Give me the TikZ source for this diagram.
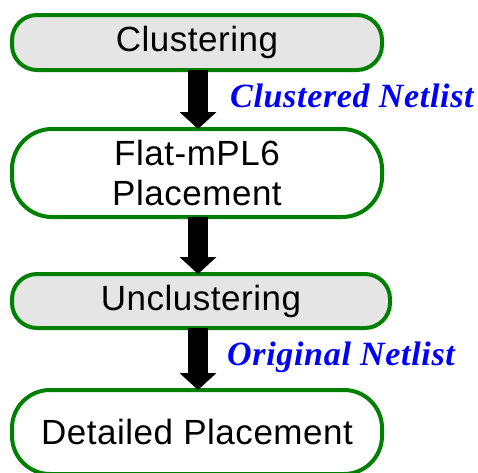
\documentclass[tikz,border=0pt]{standalone}
\usepackage{fontspec}
\setmainfont[LetterSpace=1.5]{Liberation Sans}
\newfontfamily\labelfont[LetterSpace=2]{Liberation Serif}
\usetikzlibrary{arrows.meta}
\definecolor{stageedge}{RGB}{0,128,0}
\definecolor{stagegray}{RGB}{229,229,229}
\definecolor{netblue}{RGB}{0,0,255}
\begin{document}
\begin{tikzpicture}[x=1pt,y=1pt,
  stage/.style={draw=stageedge, line width=4pt, fill=white, outer sep=0pt,
    inner sep=0pt, align=center, font=\fontsize{35}{40}\selectfont},
  graystage/.style={stage, fill=stagegray},
  flow/.style={line width=20pt, -{Triangle[width=36pt,length=17pt]}},
  netlabel/.style={text=netblue, anchor=base west, inner sep=0pt,
    font=\labelfont\bfseries\itshape\fontsize{34}{40}\selectfont}]
\useasboundingbox (0,0) rectangle (478,-472);

\node[graystage, minimum width=370pt, minimum height=55pt, rounded corners=25pt]
  (clu) at (197,-42.5) {Clustering};
\node[stage, minimum width=370pt, minimum height=88pt, rounded corners=40pt]
  (flat) at (197,-173) {Flat-mPL6\\Placement};
\node[graystage, minimum width=378pt, minimum height=54pt, rounded corners=25pt]
  (unc) at (201,-301) {Unclustering};
\node[stage, minimum width=370pt, minimum height=84pt, rounded corners=38pt]
  (det) at (197,-432) {Detailed Placement};

\draw[flow] (clu.south -| 198,0) -- (flat.north -| 198,0);
\draw[flow] (flat.south -| 198,0) -- (unc.north -| 198,0);
\draw[flow] (unc.south -| 198,0) -- (det.north -| 198,0);

\node[netlabel] (cn) at (230,-107) {Clustered Netlist};
\node[netlabel] (on) at (227,-365) {Original Netlist};
\end{tikzpicture}
\end{document}
